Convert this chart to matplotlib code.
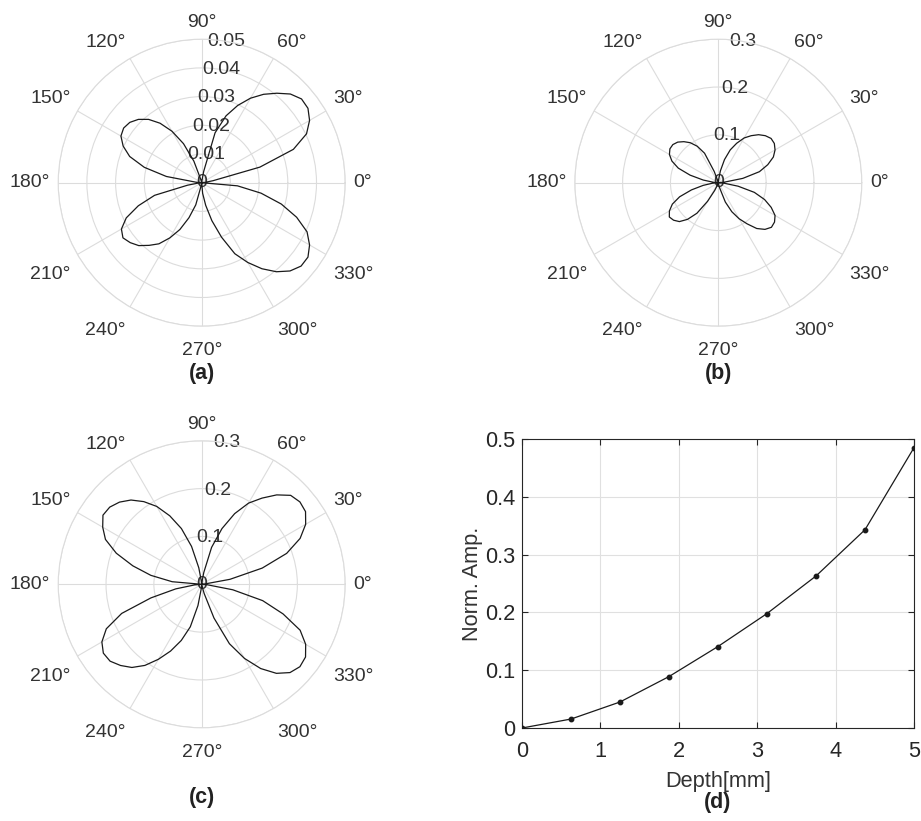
import numpy as np
import matplotlib
matplotlib.use('Agg')
import matplotlib.pyplot as plt
from matplotlib.ticker import FormatStrFormatter

plt.rcParams['font.family'] = ['Liberation Sans', 'DejaVu Sans']

# directivity samples, one value every 5 degrees (0..355)
angle_deg = np.arange(0, 360, 5)

amp_a = [
    0.0, 0.001, 0.004, 0.021, 0.034, 0.0403, 0.0434, 0.0452, 0.0454, 0.0437,
    0.0407, 0.0376, 0.034, 0.0297, 0.0248, 0.018, 0.004, 0.0005,
    0.0, 0.0, 0.0005, 0.001, 0.008, 0.015, 0.0207, 0.0253, 0.0288, 0.0312,
    0.0327, 0.0332, 0.0325, 0.0302, 0.0267, 0.0207, 0.0125, 0.002,
    0.0, 0.001, 0.005, 0.017, 0.0235, 0.029, 0.0323, 0.0335, 0.0325, 0.031,
    0.0285, 0.026, 0.0222, 0.018, 0.013, 0.008, 0.001, 0.0,
    0.0, 0.0037, 0.008, 0.0137, 0.0202, 0.0273, 0.0321, 0.0366, 0.0405, 0.0435,
    0.0452, 0.0452, 0.0434, 0.0405, 0.0352, 0.0287, 0.021, 0.0125,
]

amp_b = [
    0.0, 0.012, 0.052, 0.089, 0.11, 0.127, 0.137, 0.143, 0.144, 0.139,
    0.131, 0.12, 0.108, 0.091, 0.073, 0.05, 0.025, 0.005,
    0.0, 0.0, 0.002, 0.004, 0.025, 0.068, 0.088, 0.102, 0.112, 0.12,
    0.124, 0.1235, 0.118, 0.107, 0.089, 0.061, 0.032, 0.01,
    0.0, 0.012, 0.032, 0.058, 0.086, 0.106, 0.118, 0.125, 0.122, 0.115,
    0.1, 0.078, 0.045, 0.018, 0.005, 0.001, 0.0, 0.0,
    0.0, 0.002, 0.006, 0.012, 0.043, 0.067, 0.087, 0.105, 0.125, 0.138,
    0.145, 0.1435, 0.137, 0.122, 0.103, 0.078, 0.042, 0.012,
]

amp_c = [
    0.0, 0.005, 0.06, 0.131, 0.189, 0.227, 0.251, 0.265, 0.268, 0.263,
    0.244, 0.22, 0.196, 0.163, 0.124, 0.08, 0.025, 0.003,
    0.0, 0.005, 0.035, 0.082, 0.124, 0.158, 0.188, 0.211, 0.23, 0.243,
    0.251, 0.252, 0.239, 0.222, 0.19, 0.149, 0.108, 0.062,
    0.0, 0.015, 0.055, 0.11, 0.178, 0.22, 0.241, 0.251, 0.25, 0.24,
    0.227, 0.207, 0.181, 0.154, 0.125, 0.092, 0.045, 0.008,
    0.0, 0.003, 0.004, 0.02, 0.075, 0.137, 0.179, 0.215, 0.243, 0.261,
    0.268, 0.265, 0.251, 0.227, 0.181, 0.132, 0.066, 0.012,
]

r_ticks_a = [0.01, 0.02, 0.03, 0.04, 0.05]
r_ticks_bc = [0.1, 0.2, 0.3]

# normalized amplitude vs depth
depth_mm = [0, 0.625, 1.25, 1.875, 2.5, 3.125, 3.75, 4.375, 5.0]
norm_amp = [0.0, 0.0155, 0.045, 0.089, 0.141, 0.198, 0.263, 0.343, 0.485]

W, H = 921, 821
TXT = '#333333'
GRID = '#dcdcdc'
R_PX = 143.5
PT = 0.72  # points per pixel at 100 dpi


def polar_panel(fig, cx, cy, amp, rticks, tag, tag_y):
    ax = fig.add_axes([(cx - R_PX) / W, (H - cy - R_PX) / H,
                       2 * R_PX / W, 2 * R_PX / H], projection='polar')
    rmax = rticks[-1]
    th = np.deg2rad(np.append(angle_deg, 0))
    rr = np.append(amp, amp[0])
    ax.plot(th, rr, color='#1a1a1a', lw=0.9, zorder=3)
    ax.set_ylim(0, rmax)
    ax.set_thetagrids(range(0, 360, 30), labels=[])
    ax.set_rgrids(rticks, labels=[])
    ax.grid(True, color=GRID, lw=0.8)
    ax.spines['polar'].set_color(GRID)
    ax.spines['polar'].set_linewidth(0.8)
    ax.tick_params(length=0)

    # angle labels just outside the rim
    for a in range(0, 360, 30):
        t = np.deg2rad(a)
        c, s = np.cos(t), np.sin(t)
        ha = 'left' if c > 0.01 else ('right' if c < -0.01 else 'center')
        va = 'bottom' if s > 0.01 else ('top' if s < -0.01 else 'center')
        off = 8 * PT
        dy = off * s - (8 * PT if s < -0.01 else 0)
        ax.annotate(f'{a}°', xy=(t, rmax), xytext=(off * c, dy),
                    textcoords='offset points', ha=ha, va=va,
                    fontsize=14, color=TXT, annotation_clip=False)

    # radius labels along the 80 degree spoke
    for r in rticks:
        ax.text(np.deg2rad(80), r, f'{r:g}', ha='center', va='center',
                fontsize=14, color=TXT, zorder=2)
    ax.text(0, 0, '0', ha='center', va='center', fontsize=14,
            color=TXT, zorder=2)

    fig.text(cx / W, 1 - tag_y / H, tag, ha='center', va='center',
             fontsize=15.5, fontweight='bold', color='#222222')
    return ax


fig = plt.figure(figsize=(W / 100, H / 100), dpi=100)

polar_panel(fig, 201.7, 182.7, amp_a, r_ticks_a, '(a)', 373)
polar_panel(fig, 718.3, 182.7, amp_b, r_ticks_bc, '(b)', 373)
polar_panel(fig, 201.7, 584.3, amp_c, r_ticks_bc, '(c)', 797)

ax = fig.add_axes([522 / W, (H - 728) / H, 392 / W, 289 / H])
ax.plot(depth_mm, norm_amp, '-', color='#1a1a1a', lw=0.9,
        marker='o', ms=3.2, zorder=3)
ax.set_xlim(0, 5)
ax.set_ylim(0, 0.5)
ax.set_xticks(range(6))
ax.set_yticks([0, 0.1, 0.2, 0.3, 0.4, 0.5])
ax.yaxis.set_major_formatter(FormatStrFormatter('%g'))
ax.grid(True, color='#e0e0e0', lw=0.8)
ax.set_axisbelow(True)
ax.tick_params(direction='in', top=True, right=True, length=4, width=0.8,
               colors='#262626', labelsize=15.7)
ax.tick_params(axis='x', pad=9)
ax.tick_params(axis='y', pad=5)
for sp in ax.spines.values():
    sp.set_color('#262626')
    sp.set_linewidth(0.8)
ax.set_xlabel('Depth[mm]', fontsize=15.7, color=TXT, labelpad=7)
ax.set_ylabel('Norm. Amp.', fontsize=15.7, color=TXT, labelpad=1)
fig.text(718 / W, 1 - 802 / H, '(d)', ha='center', va='center',
         fontsize=15.5, fontweight='bold', color='#222222')

fig.savefig('out.png', dpi=100)
